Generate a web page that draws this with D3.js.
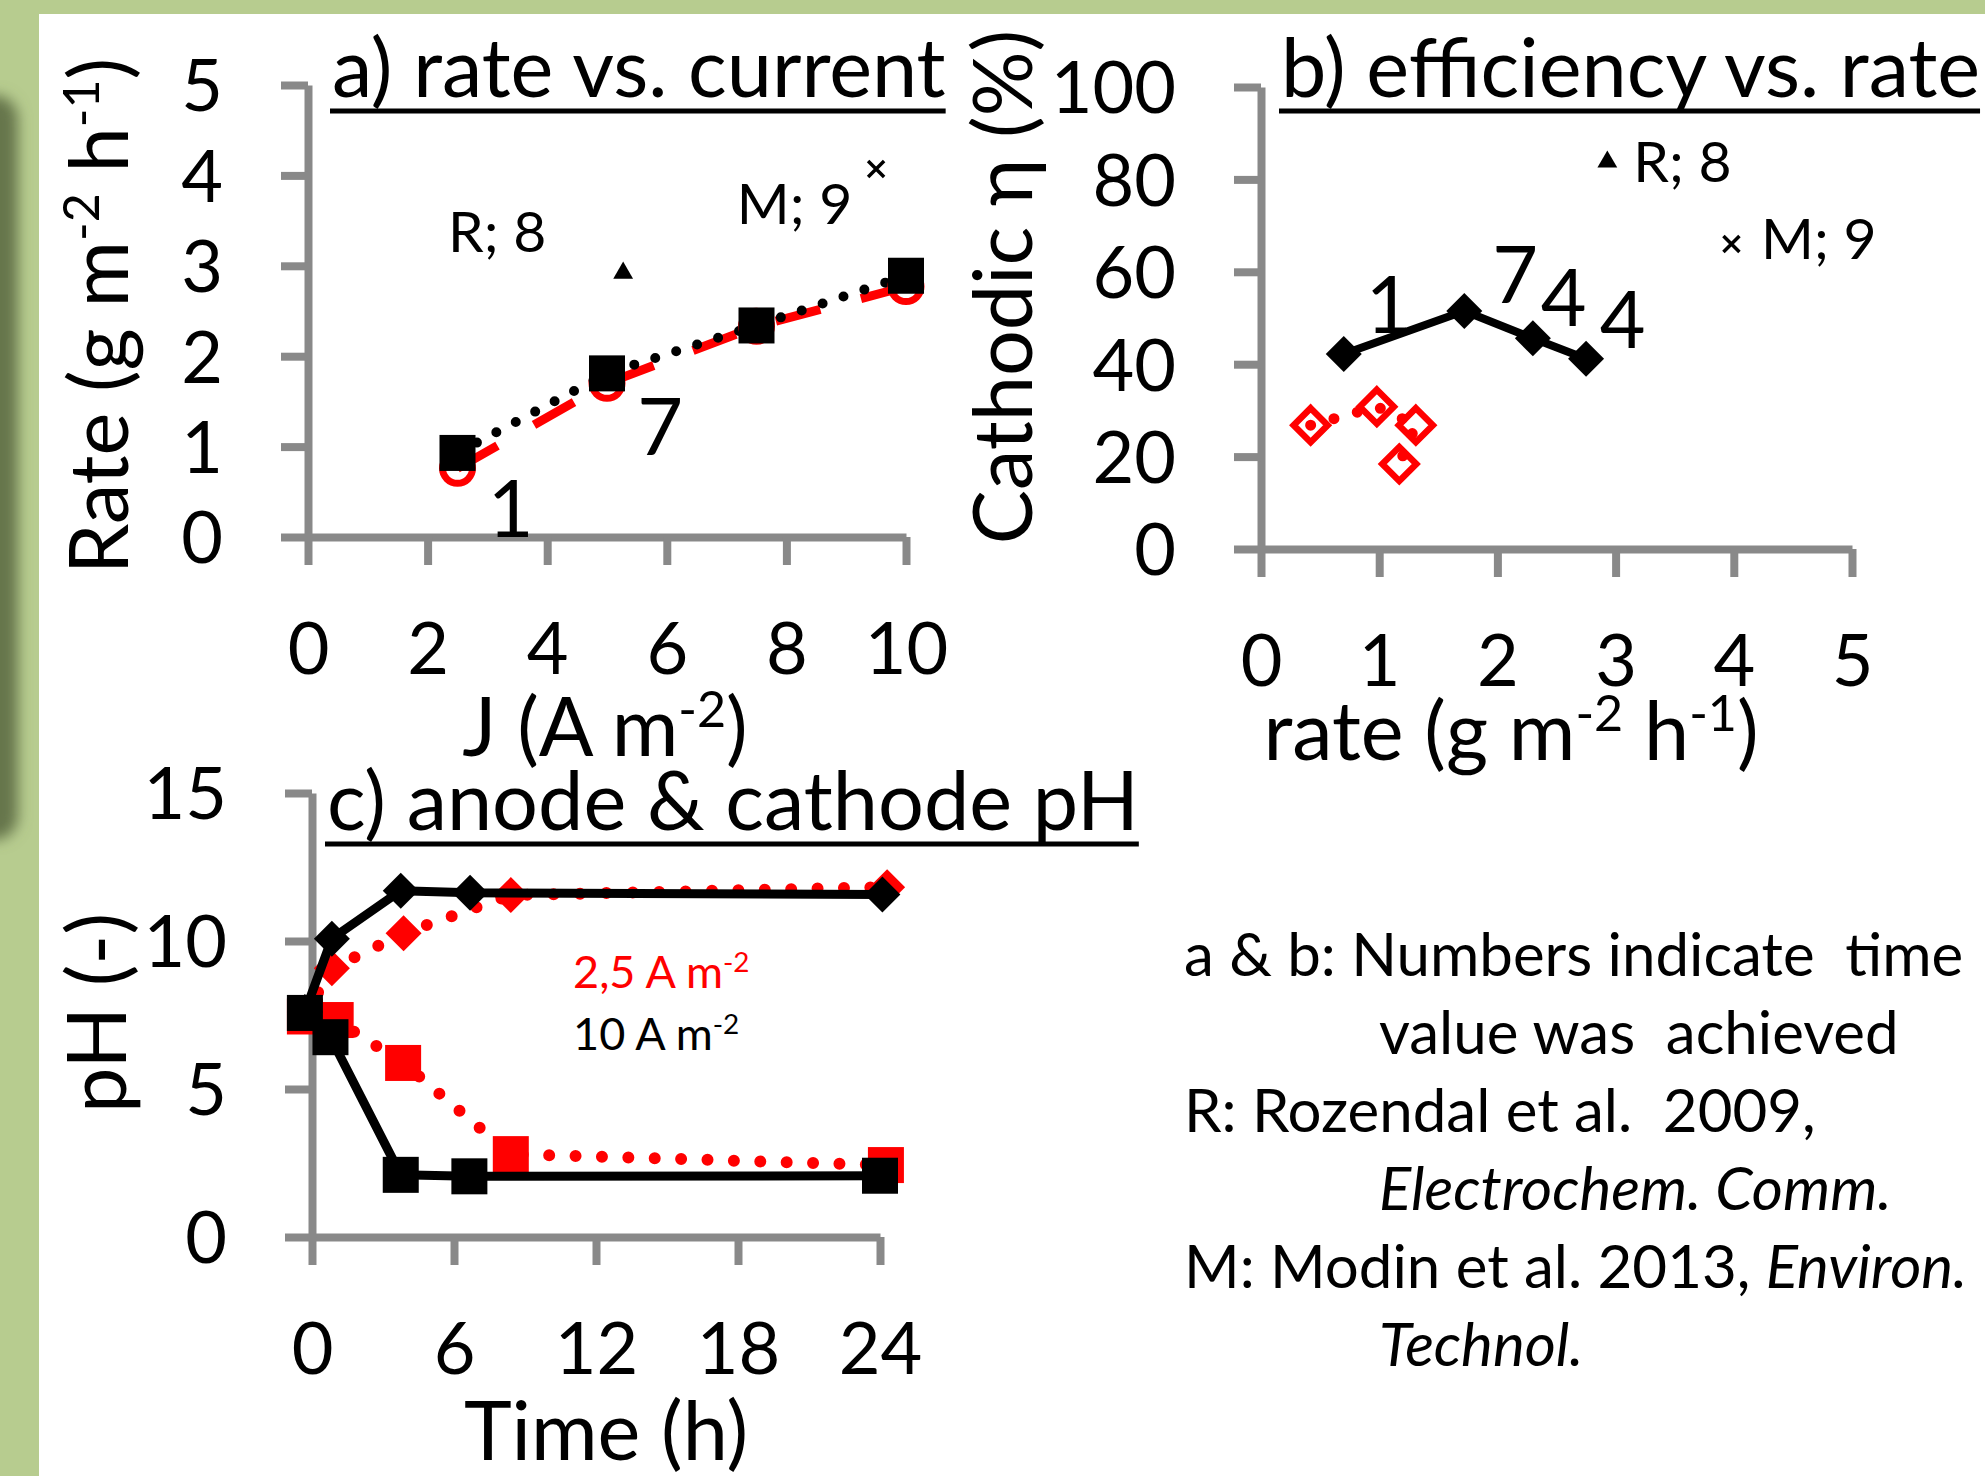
<!DOCTYPE html>
<html>
<head>
<meta charset="utf-8">
<script src="https://cdnjs.cloudflare.com/ajax/libs/d3/7.8.5/d3.min.js"></script>
<style>
  html, body { margin: 0; padding: 0; background: #b7cc8f; }
  svg { display: block; font-family: Lato, 'Open Sans', sans-serif; }
  text { white-space: pre; }
</style>
</head>
<body>
<script>
// ---- panel a: rate vs. current
const currentJ = [2.5, 5, 7.5, 10];
const rateSquares = [0.93, 1.81, 2.34, 2.89];
const rateCircles = [0.76, 1.70, 2.33, 2.77];
const currentTicks = [0, 2, 4, 6, 8, 10];
const rateTicks = [0, 1, 2, 3, 4, 5];
const litR_a = [5.27, 2.92];
const litM_a = [9.5, 4.07];
const labelsA = [
  {t: 'R; 8', x: 2.34, y: 3.15, size: 'small', anchor: 'start'},
  {t: 'M; 9', x: 7.17, y: 3.46, size: 'small', anchor: 'start'},
  {t: '1', x: 3.39, y: 0.0, size: 'big', anchor: 'middle'},
  {t: '7', x: 5.89, y: 0.91, size: 'big', anchor: 'middle'}
];

// ---- panel b: efficiency vs. rate
const rateBlack = [0.70, 1.72, 2.30, 2.75];
const effBlack = [42.2, 51.5, 45.6, 41.2];
const rateRed = [0.42, 0.98, 1.31, 1.17];
const effRed = [26.8, 30.8, 26.8, 18.4];
const rateTicksB = [0, 1, 2, 3, 4, 5];
const effTicks = [0, 20, 40, 60, 80, 100];
const litR_b = [2.93, 83.8];
const litM_b = [3.98, 66.0];
const labelsB = [
  {t: 'R; 8', x: 3.15, y: 79.4, size: 'small', anchor: 'start'},
  {t: 'M; 9', x: 4.23, y: 62.8, size: 'small', anchor: 'start'},
  {t: '1', x: 1.08, y: 46.8, size: 'big', anchor: 'middle'},
  {t: '7', x: 2.15, y: 53.2, size: 'big', anchor: 'middle'},
  {t: '4', x: 2.56, y: 48.3, size: 'big', anchor: 'middle'},
  {t: '4', x: 3.06, y: 43.5, size: 'big', anchor: 'middle'}
];

// ---- panel c: anode & cathode pH
const timeAnode10 = [-0.3, 0.78, 3.75, 6.65, 24.0];
const pHAnode10 = [7.57, 6.75, 2.10, 2.05, 2.07];
const timeCathode10 = [-0.3, 0.84, 3.75, 6.68, 24.1];
const pHCathode10 = [7.60, 10.08, 11.70, 11.63, 11.57];
const timeAnode25 = [-0.3, 1.0, 3.85, 8.4, 24.25];
const pHAnode25 = [7.45, 7.33, 5.88, 2.80, 2.43];
const timeCathode25 = [-0.3, 0.84, 3.87, 8.4, 24.3];
const pHCathode25 = [7.50, 9.08, 10.26, 11.55, 11.82];
const timeTicks = [0, 6, 12, 18, 24];
const pHTicks = [0, 5, 10, 15];
const legendC = [
  {parts: [{t: '2,5 A m'}, {t: '-2', sup: true}], x: 11.03, y: 8.41, color: '#ff0000'},
  {parts: [{t: '10 A m'}, {t: '-2', sup: true}], x: 11.03, y: 6.32, color: '#000000'}
];

const notes = [
  {x: 0, parts: [{t: 'a & b: Numbers indicate  time'}]},
  {x: 1, parts: [{t: 'value was  achieved'}]},
  {x: 0, parts: [{t: 'R: Rozendal et al.  2009,'}]},
  {x: 1, parts: [{t: 'Electrochem. Comm.', it: true}]},
  {x: 0, parts: [{t: 'M: Modin et al. 2013, '}, {t: 'Environ.', it: true}]},
  {x: 1, parts: [{t: 'Technol.', it: true}]}
];

const width = 1985;
const height = 1476;
const axisGrey = '#898989';
const red = '#ff0000';

const tickFont = 72;
const titleFont = 81;
const bigFont = 79;
const smallFont = 57;
const noteFont = 60;

const svg = d3.select('body').append('svg')
  .attr('width', width)
  .attr('height', height);

// slide background
svg.append('rect').attr('width', width).attr('height', height).attr('fill', '#b7cc8f');
const defs = svg.append('defs');
defs.append('filter').attr('id', 'soft')
  .attr('x', '-100%').attr('y', '-20%').attr('width', '300%').attr('height', '140%')
  .append('feGaussianBlur').attr('stdDeviation', 7);
svg.append('rect')
  .attr('x', -30).attr('y', 95).attr('width', 48).attr('height', 745).attr('rx', 24)
  .attr('fill', '#66764c').attr('filter', 'url(#soft)');
svg.append('rect').attr('x', 39).attr('y', 14)
  .attr('width', width - 39).attr('height', height - 14).attr('fill', '#fff');

// scales
const xA = d3.scaleLinear().domain([0, 10]).range([308, 906]);
const yA = d3.scaleLinear().domain([0, 5]).range([537, 85]);
const xB = d3.scaleLinear().domain([0, 5]).range([1261, 1852]);
const yB = d3.scaleLinear().domain([0, 100]).range([549, 87]);
const xC = d3.scaleLinear().domain([0, 24]).range([312, 880]);
const yC = d3.scaleLinear().domain([0, 15]).range([1237, 793]);

// writes text with superscripts / italics into a text element
function richText(sel, parts, size) {
  let shift = 0;
  parts.forEach(p => {
    const ts = sel.append('tspan').text(p.t);
    if (p.it) ts.attr('font-style', 'italic');
    const target = p.sup ? -size * 0.36 : 0;
    if (p.sup) ts.attr('font-size', size * 0.62);
    if (target !== shift) ts.attr('dy', target - shift);
    shift = target;
  });
  return sel;
}

function drawAxes(x, y, xTicks, yTicks) {
  const gx = svg.append('g')
    .attr('transform', `translate(0,${y.range()[0]})`)
    .call(d3.axisBottom(x).tickValues(xTicks).tickFormat(d3.format('d'))
      .tickSize(28).tickSizeOuter(0).tickPadding(58));
  const gy = svg.append('g')
    .attr('transform', `translate(${x.range()[0]},0)`)
    .call(d3.axisLeft(y).tickValues(yTicks).tickFormat(d3.format('d'))
      .tickSize(27).tickSizeOuter(0).tickPadding(58));
  [gx, gy].forEach(g => {
    g.attr('font-family', null).attr('font-size', null);
    g.select('.domain').attr('stroke', axisGrey).attr('stroke-width', 8);
    g.selectAll('.tick line').attr('stroke', axisGrey).attr('stroke-width', 8);
    g.selectAll('.tick text').attr('fill', '#000').attr('font-size', tickFont);
  });
  gy.selectAll('.tick text').attr('dy', '0.36em');
}

function title(txt, x0, base) {
  const t = svg.append('text').attr('x', x0).attr('y', base)
    .attr('font-size', titleFont).text(txt);
  const w = t.node().getComputedTextLength();
  svg.append('line')
    .attr('x1', x0 - 2).attr('x2', Math.min(x0 + w, width - 3))
    .attr('y1', base + 14).attr('y2', base + 14)
    .attr('stroke', '#000').attr('stroke-width', 5);
}

const diamond = h => `M0,${-h}L${h},0L0,${h}L${-h},0Z`;
const cross = h => `M${-h},${-h}L${h},${h}M${-h},${h}L${h},${-h}`;

function markers(data, x, y, kind, color) {
  const g = svg.append('g');
  const sel = g.selectAll('.m').data(data).enter();
  if (kind === 'square') {
    sel.append('rect')
      .attr('x', d => x(d[0]) - 18).attr('y', d => y(d[1]) - 18)
      .attr('width', 36).attr('height', 36).attr('fill', color);
  } else if (kind === 'circle') {
    sel.append('circle')
      .attr('cx', d => x(d[0])).attr('cy', d => y(d[1])).attr('r', 15)
      .attr('fill', 'none').attr('stroke', color).attr('stroke-width', 7);
  } else if (kind === 'diamond') {
    sel.append('path').attr('d', diamond(18))
      .attr('transform', d => `translate(${x(d[0])},${y(d[1])})`).attr('fill', color);
  } else if (kind === 'openDiamond') {
    sel.append('path').attr('d', diamond(17))
      .attr('transform', d => `translate(${x(d[0])},${y(d[1])})`)
      .attr('fill', 'none').attr('stroke', color).attr('stroke-width', 6.5);
  } else if (kind === 'triangle') {
    sel.append('path').attr('d', d3.symbol(d3.symbolTriangle, 170)())
      .attr('transform', d => `translate(${x(d[0])},${y(d[1])})`).attr('fill', color);
  } else if (kind === 'cross') {
    sel.append('path').attr('d', cross(8))
      .attr('transform', d => `translate(${x(d[0])},${y(d[1])})`)
      .attr('stroke', color).attr('stroke-width', 3.5);
  }
}

function series(data, x, y, color, w, dash) {
  const line = d3.line().x(d => x(d[0])).y(d => y(d[1]));
  const p = svg.append('path').datum(data).attr('d', line)
    .attr('fill', 'none').attr('stroke', color).attr('stroke-width', w)
    .attr('stroke-linejoin', 'round');
  if (dash === 'dot') p.attr('stroke-dasharray', `0 ${w * 2.2}`).attr('stroke-linecap', 'round');
  else if (dash) p.attr('stroke-dasharray', dash);
}

function labels(list, x, y) {
  svg.append('g').selectAll('text').data(list).enter().append('text')
    .attr('x', d => x(d.x)).attr('y', d => y(d.y))
    .attr('text-anchor', d => d.anchor)
    .attr('font-size', d => d.size === 'big' ? bigFont : smallFont)
    .text(d => d.t);
}

// ===== panel a
drawAxes(xA, yA, currentTicks, rateTicks);
title('a) rate vs. current', 332, 97);
series(d3.zip(currentJ, rateCircles), xA, yA, red, 9, '46 42');
series(d3.zip(currentJ, rateSquares), xA, yA, '#000', 10, 'dot');
markers(d3.zip(currentJ, rateCircles), xA, yA, 'circle', red);
markers(d3.zip(currentJ, rateSquares), xA, yA, 'square', '#000');
markers([litR_a], xA, yA, 'triangle', '#000');
markers([litM_a], xA, yA, 'cross', '#000');
labels(labelsA, xA, yA);

richText(svg.append('text').attr('x', 605).attr('y', 756)
  .attr('text-anchor', 'middle').attr('font-size', titleFont),
  [{t: 'J (A m'}, {t: '-2', sup: true}, {t: ')'}], titleFont);
richText(svg.append('text').attr('transform', 'translate(128,316) rotate(-90)')
  .attr('text-anchor', 'middle').attr('font-size', titleFont),
  [{t: 'Rate (g m'}, {t: '-2', sup: true}, {t: ' h'}, {t: '-1', sup: true}, {t: ')'}], titleFont);

// ===== panel b
drawAxes(xB, yB, rateTicksB, effTicks);
title('b) efficiency vs. rate', 1281, 97);
series(d3.zip(rateRed, effRed), xB, yB, red, 11, 'dot');
markers(d3.zip(rateRed, effRed), xB, yB, 'openDiamond', red);
series(d3.zip(rateBlack, effBlack), xB, yB, '#000', 8);
markers(d3.zip(rateBlack, effBlack), xB, yB, 'diamond', '#000');
markers([litR_b], xB, yB, 'triangle', '#000');
markers([litM_b], xB, yB, 'cross', '#000');
labels(labelsB, xB, yB);

richText(svg.append('text').attr('x', 1511).attr('y', 760)
  .attr('text-anchor', 'middle').attr('font-size', titleFont),
  [{t: 'rate (g m'}, {t: '-2', sup: true}, {t: ' h'}, {t: '-1', sup: true}, {t: ')'}], titleFont);
svg.append('text').attr('transform', 'translate(1032,287) rotate(-90)')
  .attr('text-anchor', 'middle').attr('font-size', titleFont)
  .text('Cathodic \u03b7 (%)');

// ===== panel c
drawAxes(xC, yC, timeTicks, pHTicks);
title('c) anode & cathode pH', 327, 830);
series(d3.zip(timeAnode25, pHAnode25), xC, yC, red, 12, 'dot');
series(d3.zip(timeCathode25, pHCathode25), xC, yC, red, 12, 'dot');
markers(d3.zip(timeAnode25, pHAnode25), xC, yC, 'square', red);
markers(d3.zip(timeCathode25, pHCathode25), xC, yC, 'diamond', red);
series(d3.zip(timeAnode10, pHAnode10), xC, yC, '#000', 9);
series(d3.zip(timeCathode10, pHCathode10), xC, yC, '#000', 9);
markers(d3.zip(timeCathode10, pHCathode10), xC, yC, 'diamond', '#000');
markers(d3.zip(timeAnode10, pHAnode10), xC, yC, 'square', '#000');

legendC.forEach(l => {
  richText(svg.append('text').attr('x', xC(l.x)).attr('y', yC(l.y))
    .attr('font-size', 45).attr('fill', l.color), l.parts, 45);
});

svg.append('text').attr('x', 606).attr('y', 1460)
  .attr('text-anchor', 'middle').attr('font-size', titleFont).text('Time (h)');
svg.append('text').attr('transform', 'translate(126,1013) rotate(-90)')
  .attr('text-anchor', 'middle').attr('font-size', titleFont).text('pH (-)');

// ===== notes
svg.append('g').selectAll('text').data(notes).enter().append('text')
  .attr('x', d => d.x ? 1379 : 1184)
  .attr('y', (d, i) => 976 + i * 78)
  .attr('font-size', noteFont)
  .each(function(d) { richText(d3.select(this), d.parts, noteFont); });
</script>
</body>
</html>
